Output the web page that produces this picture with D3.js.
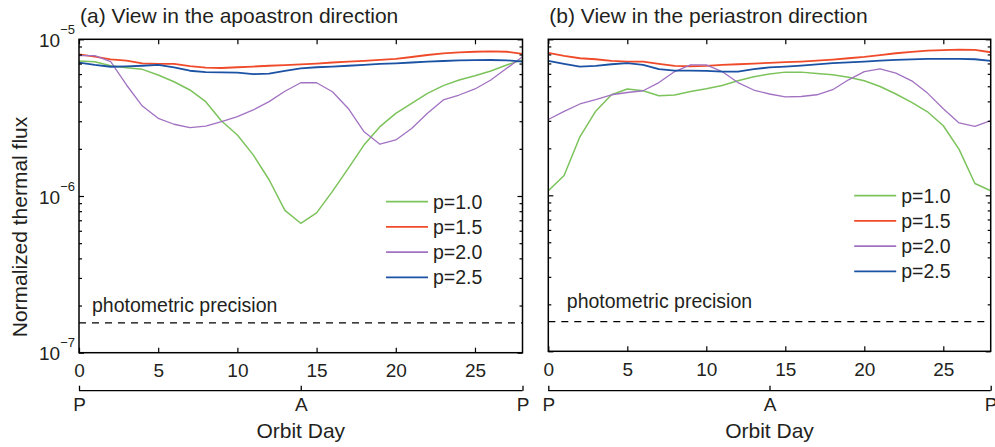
<!DOCTYPE html>
<html><head><meta charset="utf-8">
<script src="https://cdn.jsdelivr.net/npm/d3@7"></script>
<style>
body{margin:0;background:#fff}
svg{display:block}
text{font-family:"Liberation Sans",Arial,Helvetica,sans-serif;fill:#231f20}
</style>
</head><body>
<svg id="c" width="995" height="447"></svg>
<script>
// ---------- DATA (flux values in units of 1e-6) ----------
const days = [0,1,2,3,4,5,6,7,8,9,10,11,12,13,14,15,16,17,18,19,20,21,22,23,24,25,26,27,28];
const unit = 1e-6;
const seriesNames = ["p=1.0","p=1.5","p=2.0","p=2.5"];
const seriesColors = ["#7cc35b","#ef4b2a","#a272c2","#1b52a3"];
const seriesWidths = [1.5,1.8,1.3,1.8];

// (a) apoastron direction
const apoP10 = [7.27,7.20,6.78,6.59,6.43,5.92,5.36,4.75,4.00,3.01,2.45,1.83,1.27,0.81,0.67,0.78,1.07,1.50,2.12,2.77,3.37,3.90,4.52,5.06,5.50,5.86,6.28,6.86,7.38];
const apoP15 = [8.02,7.74,7.45,7.30,7.03,6.96,6.96,6.75,6.59,6.56,6.63,6.70,6.78,6.85,6.92,7.00,7.11,7.20,7.29,7.38,7.49,7.71,7.94,8.12,8.26,8.33,8.38,8.33,8.06];
const apoP20 = [7.86,7.86,7.20,5.11,3.75,3.13,2.87,2.73,2.79,2.98,3.21,3.54,4.00,4.66,5.28,5.28,4.63,3.62,2.57,2.14,2.28,2.70,3.37,4.10,4.41,4.82,5.50,6.53,7.74];
const apoP25 = [7.09,6.86,6.68,6.72,6.78,6.86,6.63,6.30,6.18,6.15,6.12,6.00,6.03,6.28,6.53,6.63,6.70,6.78,6.87,6.96,7.03,7.11,7.20,7.27,7.34,7.36,7.38,7.34,7.20];

// (b) periastron direction
const periP10 = [1.07,1.34,2.37,3.46,4.41,4.80,4.68,4.35,4.39,4.63,4.82,5.06,5.42,5.75,5.99,6.16,6.16,6.03,5.92,5.72,5.42,4.98,4.46,3.94,3.43,2.79,1.97,1.19,1.07];
const periP15 = [8.18,7.82,7.56,7.45,7.27,7.20,7.20,6.96,6.75,6.72,6.75,6.85,6.92,6.99,7.06,7.13,7.20,7.30,7.41,7.56,7.71,7.91,8.14,8.30,8.46,8.52,8.58,8.55,8.26];
const periP20 = [3.06,3.45,3.85,4.10,4.41,4.56,4.68,5.28,6.21,6.86,6.86,6.21,5.28,4.73,4.46,4.28,4.30,4.41,4.75,5.50,6.21,6.46,6.07,5.42,4.52,3.59,2.91,2.77,3.01];
const periP25 = [7.27,6.96,6.68,6.75,6.92,7.03,6.86,6.43,6.30,6.30,6.28,6.21,6.21,6.43,6.61,6.69,6.78,6.90,7.03,7.11,7.20,7.29,7.38,7.43,7.49,7.49,7.49,7.45,7.27];

const precision = 1.55e-7;
const precisionLabel = "photometric precision";

const xTicks = [0,5,10,15,20,25];
const yMajor = [1e-7,1e-6,1e-5];
const yMajorBase = ["10","10","10"];
const yMajorExp = ["\u22127","\u22126","\u22125"];
const yMinor = [2e-7,3e-7,4e-7,5e-7,6e-7,7e-7,8e-7,9e-7,2e-6,3e-6,4e-6,5e-6,6e-6,7e-6,8e-6,9e-6];
const orbitDays = [0,14,28];
const orbitLabels = ["P","A","P"];

const titles = ["(a) View in the apoastron direction","(b) View in the periastron direction"];
const xLabel = "Orbit Day";
const yLabel = "Normalized thermal flux";

// ---------- LAYOUT ----------
const panels = [
  {left:79, right:522.5, top:39.3, bottom:352.7, data:[apoP10,apoP15,apoP20,apoP25], yLabels:true,
   legendTop:201.7, precX:13, precDy:-11},
  {left:548.3, right:990.7, top:39.3, bottom:351.3, data:[periP10,periP15,periP20,periP25], yLabels:false,
   legendTop:195.7, precX:18.5, precDy:-13.5}
];

const svg = d3.select("#c");

panels.forEach((p, pi) => {
  const x = d3.scaleLinear().domain([0,28]).range([p.left,p.right]);
  const y = d3.scaleLog().domain([1e-7,1e-5]).range([p.bottom,p.top]);
  const g = svg.append("g");

  // title
  g.append("text").attr("x", p.left + 1).attr("y", 22.5)
    .style("font-size","21px").text(titles[pi]);

  // precision line
  g.append("line").attr("x1", x(0)).attr("x2", x(28))
    .attr("y1", y(precision)).attr("y2", y(precision))
    .attr("stroke","#000").attr("stroke-width",1.2).attr("stroke-dasharray","7,6");
  g.append("text").attr("x", p.left + p.precX).attr("y", y(precision) + p.precDy)
    .style("font-size","19.5px").text(precisionLabel);

  // series
  const clipId = "clip" + pi;
  svg.append("clipPath").attr("id", clipId).append("rect")
    .attr("x", p.left).attr("y", p.top).attr("width", p.right - p.left).attr("height", p.bottom - p.top);
  const line = d3.line().x((d,i) => x(days[i])).y(d => y(d * unit));
  p.data.forEach((arr, si) => {
    g.append("path").datum(arr).attr("d", line)
      .attr("clip-path", `url(#${clipId})`)
      .attr("fill","none").attr("stroke", seriesColors[si]).attr("stroke-width", seriesWidths[si])
      .attr("stroke-linejoin","round");
  });

  // legend
  seriesNames.forEach((nm, si) => {
    const ly = p.legendTop + si * 25.2;
    g.append("line").attr("x1", p.right - 136.5).attr("x2", p.right - 94.5)
      .attr("y1", ly).attr("y2", ly).attr("stroke", seriesColors[si]).attr("stroke-width", 1.8);
    g.append("text").attr("x", p.right - 89.5).attr("y", ly + 7)
      .style("font-size","19.5px").text(nm);
  });

  // axes (inward ticks)
  const styleAxis = sel => {
    sel.select(".domain").remove();
    sel.selectAll(".tick line").attr("stroke","#000").attr("stroke-width",1.2);
  };
  // bottom
  const xb = g.append("g").attr("transform",`translate(0,${p.bottom})`)
    .call(d3.axisBottom(x).tickValues(xTicks).tickSizeInner(-5).tickSizeOuter(0).tickPadding(11).tickFormat(d3.format("d")));
  styleAxis(xb);
  xb.selectAll(".tick text").style("font-size","19px").attr("fill","#231f20");
  // top
  const xt = g.append("g").attr("transform",`translate(0,${p.top})`)
    .call(d3.axisTop(x).tickValues(xTicks).tickSizeInner(-5).tickSizeOuter(0).tickFormat(""));
  styleAxis(xt);
  // left/right major & minor
  [[d3.axisLeft, p.left],[d3.axisRight, p.right]].forEach(([axFn, xpos]) => {
    const maj = g.append("g").attr("transform",`translate(${xpos},0)`)
      .call(axFn(y).tickValues(yMajor).tickSizeInner(-5).tickSizeOuter(0).tickFormat(""));
    styleAxis(maj);
    const mn = g.append("g").attr("transform",`translate(${xpos},0)`)
      .call(axFn(y).tickValues(yMinor).tickSizeInner(-3).tickSizeOuter(0).tickFormat(""));
    styleAxis(mn);
  });

  // y tick labels with superscripts
  if (p.yLabels) {
    yMajor.forEach((v, i) => {
      const t = g.append("text").attr("x", p.left - 4).attr("y", y(v) + 7.5)
        .attr("text-anchor","end").style("font-size","19px");
      t.append("tspan").text(yMajorBase[i]);
      t.append("tspan").attr("dy", -13).style("font-size","13px").text(yMajorExp[i]);
    });
  }

  // frame
  g.append("rect").attr("x", p.left).attr("y", p.top)
    .attr("width", p.right - p.left).attr("height", p.bottom - p.top)
    .attr("fill","none").attr("stroke","#000").attr("stroke-width",1.5);

  // orbit phase axis
  const ob = g.append("g").attr("transform",`translate(0,390.7)`)
    .call(d3.axisBottom(x).tickValues(orbitDays).tickSizeInner(-5).tickSizeOuter(0).tickPadding(7)
      .tickFormat((d,i) => orbitLabels[i]));
  ob.select(".domain").attr("stroke","#000").attr("stroke-width",1.3).attr("d", `M${x(0)},0H${x(28)}`);
  ob.selectAll(".tick line").attr("stroke","#000").attr("stroke-width",1.3);
  ob.selectAll(".tick text").style("font-size","19px").attr("fill","#231f20");

  // x label
  g.append("text").attr("x", (p.left + p.right) / 2).attr("y", 438)
    .attr("text-anchor","middle").style("font-size","21px").text(xLabel);
});

// y label
svg.append("text").attr("transform","translate(27,227) rotate(-90)")
  .attr("text-anchor","middle").style("font-size","21px").text(yLabel);
</script>
</body></html>
